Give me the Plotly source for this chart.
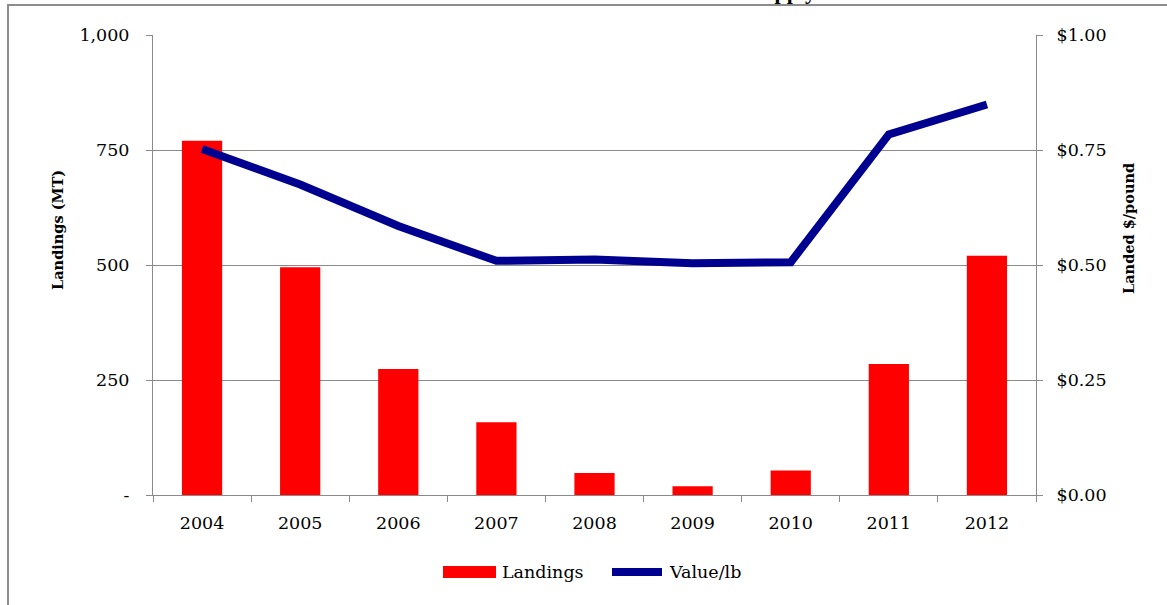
import plotly.graph_objects as go

years = ["2004", "2005", "2006", "2007", "2008", "2009", "2010", "2011", "2012"]
landings_mt = [770, 495, 274, 158, 48, 19, 53, 285, 520]
value_per_lb = [0.752, 0.675, 0.585, 0.509, 0.512, 0.504, 0.506, 0.784, 0.849]
left_tickvals = [0, 250, 500, 750, 1000]
left_ticktext = ["-", "250", "500", "750", "1,000"]
right_tickvals = [0, 0.25, 0.5, 0.75, 1.0]
series_names = ["Landings", "Value/lb"]
bar_color = "#FF0000"
line_color = "#000090"

FONT = "DejaVu Serif"
GRID = "#8a8a8a"

W, H = 1167, 605
L, R, T, B = 153, 1036, 35, 495


def px_x(p):
    return (p - L) / (R - L)


def px_y(p):
    return (B - p) / (B - T)


fig = go.Figure()
fig.add_trace(go.Bar(
    x=years, y=landings_mt, name=series_names[0],
    marker=dict(color=bar_color, line=dict(width=0)),
    yaxis="y", showlegend=False,
))
fig.add_trace(go.Scatter(
    x=years, y=value_per_lb, name=series_names[1], mode="lines",
    line=dict(color=line_color, width=8),
    yaxis="y2", showlegend=False,
))

TICKFONT = dict(family=FONT, size=17.5, color="black")

fig.update_layout(
    width=W, height=H,
    margin=dict(l=L, r=W - R, t=T, b=H - B),
    paper_bgcolor="white", plot_bgcolor="white",
    font=dict(family=FONT, size=17, color="black"),
    bargap=0.59,
    showlegend=False,
    xaxis=dict(
        type="category", showline=True, linecolor=GRID, linewidth=1,
        ticks="outside", ticklen=6, tickcolor=GRID, tickson="boundaries",
        showgrid=False, ticklabelstandoff=12,
        tickfont=TICKFONT,
    ),
    yaxis=dict(
        range=[0, 1000], tickvals=left_tickvals, ticktext=left_ticktext,
        showline=True, linecolor=GRID, linewidth=1,
        ticks="outside", ticklen=6, tickcolor=GRID,
        showgrid=True, gridcolor=GRID, gridwidth=1,
        zeroline=False, ticklabelstandoff=13,
        tickfont=TICKFONT,
    ),
    yaxis2=dict(
        range=[0, 1.0], tickvals=right_tickvals, tickformat="$.2f",
        overlaying="y", side="right",
        showline=True, linecolor=GRID, linewidth=1,
        ticks="outside", ticklen=6, tickcolor=GRID,
        showgrid=False, zeroline=False, ticklabelstandoff=10,
        tickfont=TICKFONT,
    ),
    shapes=[
        dict(type="rect", xref="paper", yref="paper",
             x0=px_x(8), x1=px_x(1400), y0=px_y(800), y1=px_y(5),
             line=dict(color="#8c8c8c", width=2), fillcolor="rgba(0,0,0,0)",
             layer="below"),
        # legend keys
        dict(type="rect", xref="paper", yref="paper",
             x0=px_x(443), x1=px_x(496), y0=px_y(578), y1=px_y(566),
             line=dict(width=0), fillcolor=bar_color),
        dict(type="line", xref="paper", yref="paper",
             x0=px_x(612), x1=px_x(662), y0=px_y(572), y1=px_y(572),
             line=dict(color=line_color, width=8)),
    ],
    annotations=[
        dict(text="<b>Landings (MT)</b>", textangle=-90, xref="paper", yref="paper",
             x=px_x(57), y=px_y(230), xanchor="center", yanchor="middle",
             showarrow=False, font=dict(family=FONT, size=14.5)),
        dict(text="<b>Landed $/pound</b>", textangle=-90, xref="paper", yref="paper",
             x=px_x(1128), y=px_y(229), xanchor="center", yanchor="middle",
             showarrow=False, font=dict(family=FONT, size=14.5)),
        dict(text="<b>Supply</b>", xref="paper", yref="paper",
             x=px_x(818), y=px_y(6), xanchor="right", yanchor="bottom",
             showarrow=False, font=dict(family="Liberation Serif", size=22)),
        dict(text=series_names[0], xref="paper", yref="paper",
             x=px_x(500), y=px_y(572), xanchor="left", yanchor="middle",
             showarrow=False, font=TICKFONT),
        dict(text=series_names[1], xref="paper", yref="paper",
             x=px_x(667), y=px_y(572), xanchor="left", yanchor="middle",
             showarrow=False, font=TICKFONT),
    ],
)

fig.write_html("out.html")
